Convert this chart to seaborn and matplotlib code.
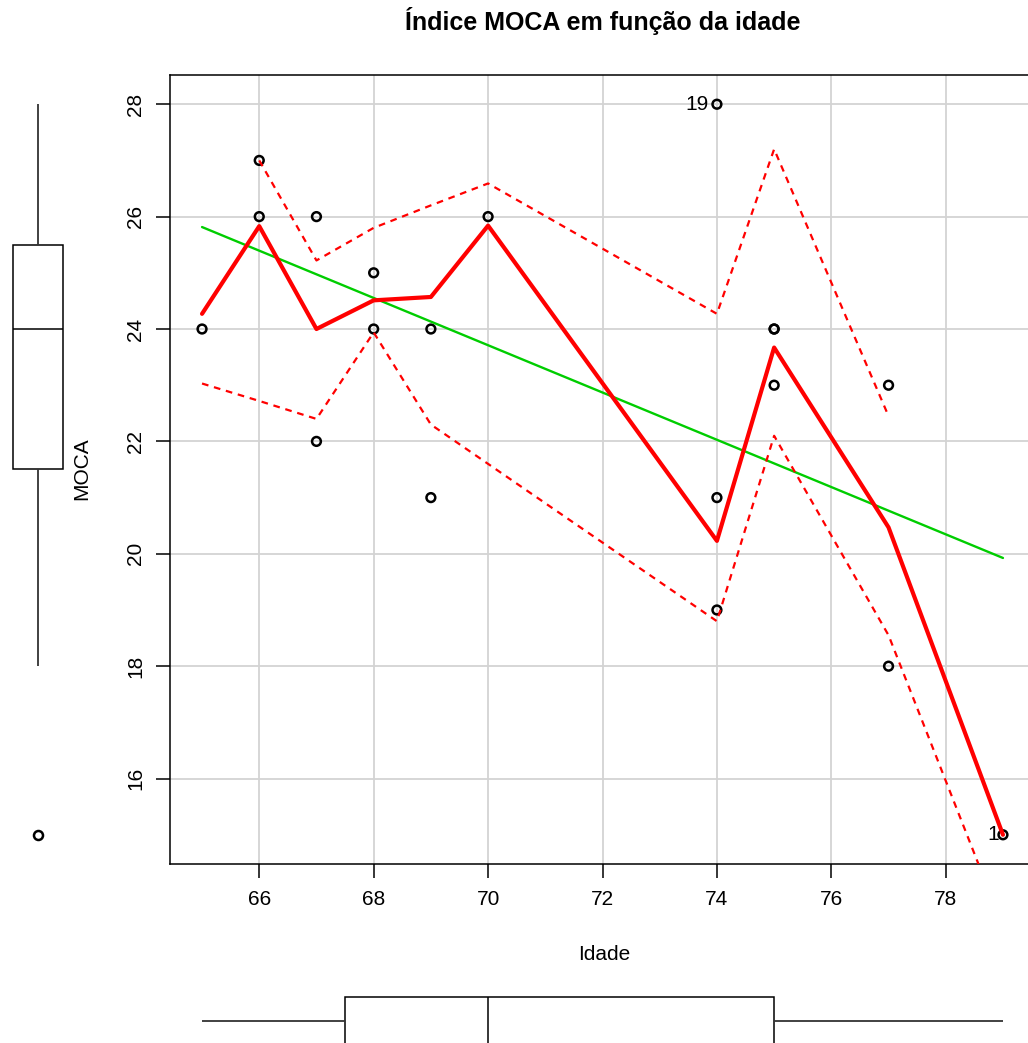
import matplotlib
matplotlib.use("Agg")
import matplotlib.pyplot as plt
import seaborn as sns
import pandas as pd
import numpy as np

# ---------------- data ----------------
idade = [79, 65, 66, 66, 67, 67, 68, 68, 69, 69, 70, 74, 74, 75, 75, 75, 77, 77, 74]
moca = [15, 24, 27, 26, 26, 22, 25, 24, 24, 21, 26, 21, 19, 24, 24, 23, 23, 18, 28]
row_labels = [str(i + 1) for i in range(len(idade))]
labelled_rows = ["1", "19"]

# smoother (loess) and spread lines
smooth_x = [65, 66, 67, 68, 69, 70, 74, 75, 77, 79]
smooth_y = [24.27, 25.83, 24.0, 24.51, 24.57, 25.84, 20.23, 23.67, 20.47, 15.0]
upper_x = [66, 67, 68, 69, 70, 74, 75, 77]
upper_y = [27.0, 25.22, 25.8, 26.2, 26.59, 24.27, 27.2, 22.45]
lower_x = [65, 66, 67, 68, 69, 70, 74, 75, 77, 79]
lower_y = [23.03, 22.72, 22.4, 23.94, 22.3, 21.6, 18.8, 22.1, 18.55, 13.37]

x_ticks = [66, 68, 70, 72, 74, 76, 78]
y_ticks = [16, 18, 20, 22, 24, 26, 28]
title = "Índice MOCA em função da idade"
xlabel = "Idade"
ylabel = "MOCA"

df = pd.DataFrame({"Idade": idade, "MOCA": moca, "row": row_labels})
smooth_df = pd.DataFrame({"x": smooth_x, "y": smooth_y})
upper_df = pd.DataFrame({"x": upper_x, "y": upper_y})
lower_df = pd.DataFrame({"x": lower_x, "y": lower_y})

# ---------------- style ----------------
sns.set_style("white")
plt.rcParams["font.family"] = ["Liberation Sans", "DejaVu Sans"]
plt.rcParams["text.color"] = "black"
plt.rcParams["axes.labelcolor"] = "black"
plt.rcParams["xtick.color"] = "black"
plt.rcParams["ytick.color"] = "black"

W, H = 1028, 1043
fig = plt.figure(figsize=(W / 100, H / 100), dpi=100)

def fx(px):
    return px / W

def fy(py):
    return 1 - py / H

xlim = (64.44, 79.56)
ylim = (14.48, 28.52)

ax_left_px, ax_top_px, ax_bot_px = 170, 75, 864
ax_w_px = 865
ax = fig.add_axes([fx(ax_left_px), fy(ax_bot_px), ax_w_px / W, (ax_bot_px - ax_top_px) / H])
ax.set_xlim(*xlim)
ax.set_ylim(*ylim)
ax.set_xticks(x_ticks)
ax.set_yticks(y_ticks)
ax.grid(True, color="#D3D3D3", lw=1.3)
ax.set_axisbelow(True)
for s in ax.spines.values():
    s.set_color("black")
    s.set_linewidth(1.1)

# points
sns.scatterplot(data=df, x="Idade", y="MOCA", ax=ax, marker="o", s=40,
                facecolor="none", edgecolor="black", linewidth=1.8, zorder=3)

# regression line
sns.regplot(data=df, x="Idade", y="MOCA", ax=ax, scatter=False, ci=None,
            truncate=True, color="#00CD00", line_kws=dict(lw=1.7, zorder=4))

# smoother and spread
sns.lineplot(data=smooth_df, x="x", y="y", ax=ax, color="#FF0000", lw=3.0,
             sort=False, estimator=None, zorder=5)
sns.lineplot(data=upper_df, x="x", y="y", ax=ax, color="#FF0000", lw=1.6,
             sort=False, estimator=None, dashes=False, zorder=5, linestyle=(0, (3, 2.6)))
sns.lineplot(data=lower_df, x="x", y="y", ax=ax, color="#FF0000", lw=1.6,
             sort=False, estimator=None, dashes=False, zorder=5, linestyle=(0, (3, 2.6)))

# point labels
for _, r in df[df["row"].isin(labelled_rows)].iterrows():
    off = -6 if r["row"] == "19" else -2.5
    ax.annotate(r["row"], (r["Idade"], r["MOCA"]), xytext=(off, 0),
                textcoords="offset points", ha="right", va="center",
                fontsize=15, color="black", zorder=6)

ax.set_xlabel("")
ax.set_ylabel("")
ax.tick_params(axis="both", which="both", direction="out", length=10, width=1.1,
               color="black", labelcolor="black", labelsize=15, left=True, bottom=True)
ax.tick_params(axis="x", pad=9)
ax.tick_params(axis="y", pad=8)
for lab in ax.get_yticklabels():
    lab.set_rotation(90)
    lab.set_va("center")

fig.text(fx(603), fy(30), title, ha="center", va="baseline",
         fontsize=18, fontweight="bold", color="black")
fig.text(fx(604), fy(955), xlabel, ha="center", va="center", fontsize=15, color="black")
fig.text(fx(82), fy(469), ylabel, ha="center", va="center", fontsize=15, rotation=90,
         color="black")

# marginal boxplots
box_line = "black"
flier = dict(marker="o", markerfacecolor="none", markeredgecolor="black",
             markersize=6.5, markeredgewidth=1.8)

ax_l = fig.add_axes([0, fy(ax_bot_px), fx(76), (ax_bot_px - ax_top_px) / H])
sns.boxplot(y=moca, ax=ax_l, width=50 / 76, color="white", linecolor=box_line,
            linewidth=1.1, showcaps=False, flierprops=flier,
            whiskerprops=dict(color="#333333", lw=1.3))
ax_l.set_ylim(*ylim)
ax_l.set_xlim(-0.5, 0.5)
ax_l.axis("off")

ax_b = fig.add_axes([fx(ax_left_px), -20 / H, ax_w_px / W, 84 / H])
sns.boxplot(x=idade, ax=ax_b, orient="h", width=48 / 84, color="white",
            linecolor=box_line, linewidth=1.1, showcaps=False, flierprops=flier,
            whiskerprops=dict(color="#333333", lw=1.3))
ax_b.set_xlim(*xlim)
ax_b.set_ylim(0.5, -0.5)
ax_b.axis("off")

fig.savefig("out.png", dpi=100)
